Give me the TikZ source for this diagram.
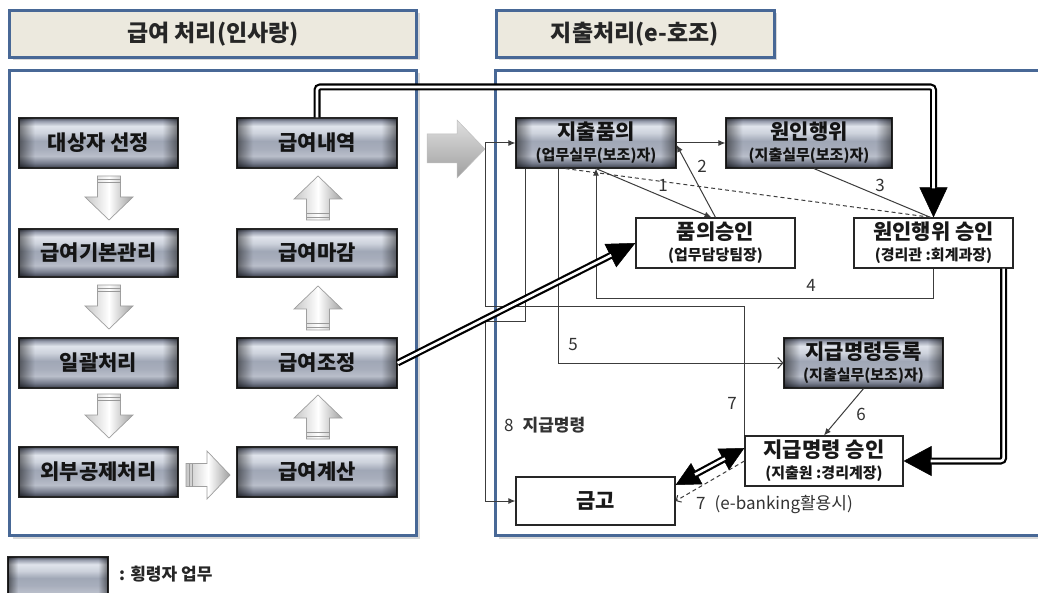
\documentclass[tikz,border=0pt]{standalone}
\usepackage{fontspec}
\setmainfont{Noto Sans CJK KR}
\usetikzlibrary{arrows.meta,shadows,fadings,calc}
\definecolor{panelblue}{RGB}{72,104,150}
\definecolor{titlebg}{RGB}{236,233,222}
\definecolor{lnc}{RGB}{60,60,60}
\definecolor{mA}{RGB}{80,85,100}
\definecolor{mB}{RGB}{150,156,172}
\definecolor{mC}{RGB}{224,228,236}
\definecolor{mD}{RGB}{205,210,220}
\definecolor{mE}{RGB}{160,167,182}
\definecolor{mF}{RGB}{168,174,188}
\definecolor{mG}{RGB}{185,190,202}
\definecolor{mI}{RGB}{118,124,140}
\definecolor{mH}{RGB}{58,62,76}
\pgfdeclareverticalshading{metal}{100bp}{color(0bp)=(mH); color(25bp)=(mH); color(30bp)=(mI); color(37bp)=(mG); color(44bp)=(mF); color(52bp)=(mE); color(60bp)=(mD); color(67bp)=(mC); color(72bp)=(mB); color(75bp)=(mA); color(100bp)=(mA)}
\pgfdeclarehorizontalshading{sideshade}{100bp}{color(0bp)=(pgftransparent!50); color(25bp)=(pgftransparent!50); color(30bp)=(pgftransparent); color(70bp)=(pgftransparent); color(75bp)=(pgftransparent!50); color(100bp)=(pgftransparent!50)}
\pgfdeclarefading{sidefade}{\pgfuseshading{sideshade}}
\tikzset{
  metalbox/.style={shade, shading=metal, draw=black!85, line width=1.2pt, minimum height=50pt, inner sep=0pt, align=center, text=black!92, font=\bfseries\fontsize{21}{21}\selectfont, postaction={path fading=sidefade, fill=black}},
  whitebox/.style={draw=black!85, line width=1.2pt, fill=white, minimum height=50pt, inner sep=0pt, align=center, text=black!90, font=\bfseries\fontsize{21}{21}\selectfont},
  titlebox/.style={draw=panelblue, line width=3pt, fill=titlebg, minimum height=47pt, inner sep=0pt, font=\bfseries\fontsize{23}{23}\selectfont, text=black!85, drop shadow={shadow xshift=3pt, shadow yshift=-3pt, opacity=0.3}},
  panelline/.style={draw=panelblue, line width=3pt, fill=white, drop shadow={shadow xshift=3pt, shadow yshift=-3pt, opacity=0.3}},
  conn/.style={draw=lnc, line width=1pt},
  arr/.style={conn, -{Latex[length=7pt,width=6pt]}},
  openarr/.style={conn, -{Straight Barb[length=5pt,width=11pt]}},
  dblout/.style={draw=black, line width=7pt},
  dblin/.style={draw=white, line width=2.6pt},
  numlbl/.style={inner sep=0pt, text=black!80, font=\fontsize{17}{17}\selectfont},
  blockarr/.pic={
    \path[shade, left color=gray!45, right color=gray!75, middle color=white, draw=gray!75, line width=0.7pt]
      (-11.5,0) -- (11.5,0) -- (11.5,21) -- (24,21) -- (0,44) -- (-24,21) -- (-11.5,21) -- cycle;
    \draw[gray!80, line width=0.8pt] (-11.5,3) -- (11.5,3) (-11.5,6.5) -- (11.5,6.5);
  }
}
\begin{document}
\begin{tikzpicture}[x=1pt,y=-1pt]
\useasboundingbox (0,0) rectangle (1038,593);
% panels
\draw[panelline] (9.5,70.5) rectangle (416.5,535.5);
\draw[panelline] (495.5,70.5) rectangle (1060,535.5);
\node[titlebox, minimum width=407pt] (t1) at (213,34) {급여 처리(인사랑)};
\node[titlebox, minimum width=278pt] (t2) at (635,34) {지출처리(e-호조)};

% left boxes
\node[metalbox, minimum width=159pt] (dsj) at (98.5,143) {대상자 선정};
\node[metalbox, minimum width=160pt] (gyn) at (317,143) {급여내역};
\node[metalbox, minimum width=159pt, minimum height=48pt] (gbg) at (98.5,253) {급여기본관리};
\node[metalbox, minimum width=160pt, minimum height=48pt] (gmg) at (317,253) {급여마감};
\node[metalbox, minimum width=159pt] (ilg) at (98.5,363) {일괄처리};
\node[metalbox, minimum width=160pt] (gjj) at (317,363) {급여조정};
\node[metalbox, minimum width=159pt] (ogj) at (98.5,472) {외부공제처리};
\node[metalbox, minimum width=160pt] (ggs) at (317,472) {급여계산};

% block arrows
\pic at (109,176) {blockarr};
\pic at (109,285) {blockarr};
\pic at (109,394) {blockarr};
\pic[rotate=180] at (318,220) {blockarr};
\pic[rotate=180] at (318,330) {blockarr};
\pic[rotate=180] at (318,439) {blockarr};
\pic[rotate=90] at (186,475) {blockarr};
% big grey arrow
\path[shade, top color=gray!25, bottom color=gray!75, draw=gray!50, line width=0.5pt]
  (427,134) -- (457,134) -- (457,120) -- (485,149) -- (457,178) -- (457,163) -- (427,163) -- cycle;

% right boxes
\node[metalbox, minimum width=160pt] (jcp) at (596,143) {지출품의\\{\fontsize{15}{15}\selectfont (업무실무(보조)자)}};
\node[metalbox, minimum width=166pt] (wih) at (809,143) {원인행위\\{\fontsize{15}{15}\selectfont (지출실무(보조)자)}};
\node[whitebox, minimum width=159pt] (pus) at (715.5,243) {품의승인\\{\fontsize{15}{15}\selectfont (업무담당팀장)}};
\node[whitebox, minimum width=159pt] (wis) at (933.5,243) {원인행위 승인\\{\fontsize{15}{15}\selectfont (경리관 :회계과장)}};
\node[metalbox, minimum width=159pt] (jmd) at (863.5,363) {지급명령등록\\{\fontsize{15}{15}\selectfont (지출실무(보조)자)}};
\node[whitebox, minimum width=158pt] (jms) at (824,461) {지급명령 승인\\{\fontsize{15}{15}\selectfont (지출원 :경리계장)}};
\node[whitebox, minimum width=159pt, minimum height=48pt] (gg) at (595.5,501) {금고};

% legend
\node[metalbox, minimum width=100pt, minimum height=46pt] (leg) at (58,580) {};
\node[anchor=west, inner sep=0pt, font=\bfseries\fontsize{17}{17}\selectfont, text=black!85] (legt) at (119,574) {: 횡령자 업무};

% thin connectors
\draw[arr] (jcp.east) -- (wih.west);
\draw[arr] (jcp.south) -- ([xshift=-4pt]pus.north);
\draw[arr] (pus.north) -- ([yshift=-2pt]jcp.east);
\draw[conn] ([xshift=5pt]wih.south) -- ([xshift=-3pt]wis.north);
\draw[conn, dashed, dash pattern=on 4pt off 3pt] ($(jcp.south west)+(50,0)$) -- ([xshift=-2pt]wis.north);
\draw[arr] (wis.south) -- ++(0,30) -| (jcp.south);
\draw[openarr] ($(jcp.south west)+(43,0)$) |- (jmd.west);
\draw[arr] (jmd.south) -- (jms.north);
\draw[arr] (jms.north west) |- (485,307) |- (jcp.west);
\draw[arr] ($(jcp.south west)+(10,0)$) |- (485,322) |- (gg.west);
\draw[conn, dashed, dash pattern=on 4pt off 3pt, -{Straight Barb[length=4pt,width=8pt]}] (jms.west) -- (gg.east);

% double connectors
\coordinate (topc) at (wis.north |- 0,87);
\draw[dblout, rounded corners=3pt, -{Triangle[length=30pt,width=28pt,line width=0.5pt]}] (gyn.north) |- (topc) -- (wis.north);
\draw[dblin, rounded corners=3pt, shorten >=29pt] (gyn.north) |- (topc) -- (wis.north);
\draw[dblout, -{Triangle[length=28pt,width=26pt,line width=0.5pt]}] (gjj.east) -- (pus.west);
\draw[dblin, shorten >=27pt] (gjj.east) -- (pus.west);
\coordinate (rs) at ($(wis.south east)+(-10,0)$);
\draw[dblout, rounded corners=3pt, -{Triangle[length=28pt,width=30pt,line width=0.5pt]}] (rs) |- (jms.east);
\draw[dblin, rounded corners=3pt, shorten >=27pt] (rs) |- (jms.east);
\draw[dblout, {Triangle[length=24pt,width=24pt,line width=0.5pt]}-{Triangle[length=24pt,width=24pt,line width=0.5pt]}] ([yshift=16pt]gg.east) -- ([yshift=13pt]jms.west);
\draw[dblin, shorten <=22pt, shorten >=22pt] ([yshift=16pt]gg.east) -- ([yshift=13pt]jms.west);

% labels
\node[numlbl] (n1) at (663,185) {1};
\node[numlbl] (n2) at (702,166) {2};
\node[numlbl] (n3) at (880,185) {3};
\node[numlbl] (n4) at (811,285) {4};
\node[numlbl] (n5) at (573,345) {5};
\node[numlbl] (n6) at (861,414) {6};
\node[numlbl] (n7) at (732,403) {7};
\node[numlbl, anchor=west] (n8) at (504,425) {8\hspace{9pt}{\bfseries\fontsize{17}{17}\selectfont 지급명령}};
\node[numlbl, anchor=west] (n7b) at (696,505) {7\hspace{9pt}(e-banking활용시)};
\end{tikzpicture}
\end{document}
